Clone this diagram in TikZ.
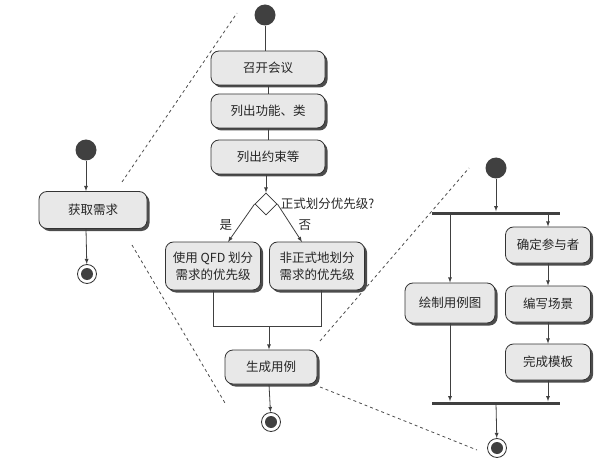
\documentclass[tikz,border=0pt]{standalone}
\usepackage{fontspec}
\setmainfont{Noto Sans CJK SC}
\usetikzlibrary{shapes.geometric,shadows}
\tikzset{>=latex}
\tikzset{
  act/.style={draw=black!80, line width=0.8pt, rounded corners=8pt, fill=black!9,
    inner sep=1pt, align=center, text=black!85, font=\fontsize{12.5}{17}\selectfont,
    general shadow={fill=black!70, shadow xshift=2.5pt, shadow yshift=-2.5pt}},
  init/.style={circle, fill=black!75, minimum size=21pt, inner sep=0pt},
  final/.style={circle, draw=black!80, line width=0.8pt, fill=white, minimum size=19pt, inner sep=0pt,
    path picture={\fill[black!75] (path picture bounding box.center) circle (6pt);}},
  choice/.style={diamond, draw=black!80, line width=0.8pt, fill=white, minimum size=22pt, inner sep=0pt},
  syncbar/.style={fill=black!75, minimum width=128pt, minimum height=3pt, inner sep=0pt},
  zoomline/.style={dashed, black!70, line width=0.8pt},
  flow/.style={black!75, line width=0.8pt}
}

\begin{document}
\begin{tikzpicture}[x=1pt,y=-1pt]
\useasboundingbox (0,0) rectangle (616,476);
% outer activity
\node[init] (s1) at (86,150) {};
\node[act, minimum width=108pt, minimum height=37pt] (get) at (93,210) {获取需求};
\node[final] (e1) at (87,274) {};
\draw[flow,->] (s1) -- (s1 |- get.north);
\draw[flow,->] (s1 |- get.south) -- (e1);

% zoom guides
\draw[zoomline] (122,182) -- (237,13);
\draw[zoomline] (132,245) -- (225,403);
\draw[zoomline] (320,341) -- (469,168);
\draw[zoomline] (320,387) -- (477,450);

% middle activity
\node[init] (s2) at (265,15) {};
\node[act, minimum width=114pt, minimum height=34pt] (meet) at (268,68) {召开会议};
\node[act, minimum width=114pt, minimum height=34pt] (list) at (268,111) {列出功能、类};
\node[act, minimum width=114pt, minimum height=34pt] (cons) at (268,157) {列出约束等};
\node[choice] (ask) at (266,204) {};
\node[anchor=west, text=black!85, font=\fontsize{12.5}{15}\selectfont] (askl) at (ask.east) {正式划分优先级?};
\node[act, minimum width=95pt, minimum height=48pt] (qfd) at (213,266) {使用 QFD 划分\\需求的优先级};
\node[act, minimum width=95pt, minimum height=48pt] (inf) at (317,266) {非正式地划分\\需求的优先级};
\coordinate (merge) at (269,326);
\node[act, minimum width=92pt, minimum height=34pt] (gen) at (271,367) {生成用例};
\node[final] (e2) at (271,422) {};
\draw[flow] (s2) -- (s2 |- meet.north);
\draw[flow] (meet) -- (list);
\draw[flow] (list) -- (cons);
\draw[flow,->] (ask |- cons.south) -- (ask);
\draw[flow,->] (ask.west) -- (228,242) node[pos=0.55, left=4pt, text=black!85, font=\fontsize{12.5}{15}\selectfont] {是};
\draw[flow,->] (ask.east) -- (302,242) node[pos=0.55, right=4pt, text=black!85, font=\fontsize{12.5}{15}\selectfont] {否};
\draw[flow] (qfd.south) |- (merge);
\draw[flow] ([xshift=4pt]inf.south) |- (merge);
\draw[flow,->] (merge) -- (merge |- gen.north);
\draw[flow,->] (merge |- gen.south) -- (e2);

% right activity
\node[init] (s3) at (496,168) {};
\node[syncbar] (fork) at (496,213) {};
\node[act, minimum width=90pt, minimum height=40pt] (draw) at (450,303) {绘制用例图};
\node[act, minimum width=85pt, minimum height=36pt] (actor) at (548,245) {确定参与者};
\node[act, minimum width=85pt, minimum height=36pt] (scene) at (548,304) {编写场景};
\node[act, minimum width=85pt, minimum height=36pt] (tmpl) at (548,362) {完成模板};
\node[syncbar] (join) at (496,403) {};
\node[final] (e3) at (497,448) {};
\draw[flow,->] (s3) -- (fork);
\draw[flow,->] (fork.south -| draw) -- (draw);
\draw[flow,->] (fork.south -| actor) -- (actor);
\draw[flow,->] (actor) -- (scene);
\draw[flow,->] (scene) -- (tmpl);
\draw[flow,->] (draw) -- (join.north -| draw);
\draw[flow,->] (tmpl) -- (join.north -| tmpl);
\draw[flow,->] (join) -- (e3);
\end{tikzpicture}
\end{document}
